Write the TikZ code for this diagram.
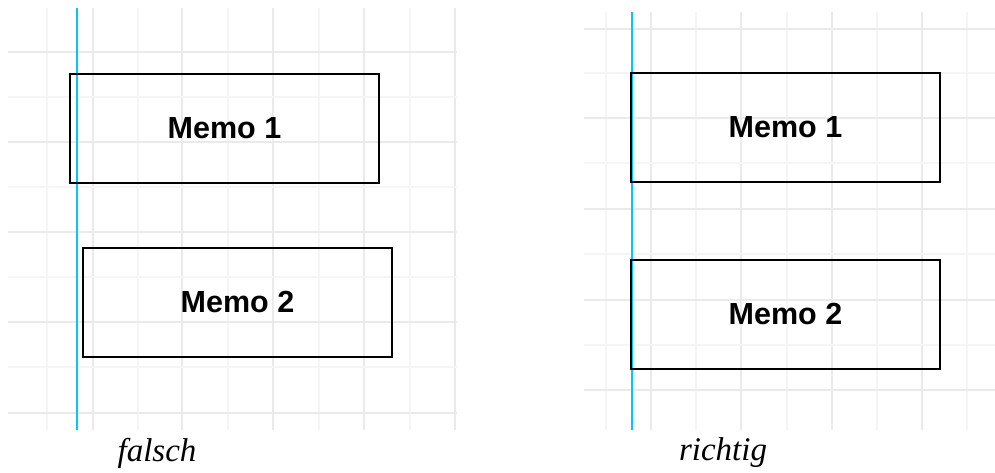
\documentclass[tikz,border=0pt]{standalone}
\usepackage{fontspec}
\setmainfont{Liberation Serif}
\setsansfont{Liberation Sans}
\definecolor{gridmaj}{RGB}{234,234,234}
\definecolor{gridmin}{RGB}{245,245,245}
\definecolor{guide}{RGB}{0,200,255}
\tikzset{
  memo/.style={draw=black, line width=2pt, minimum width=309pt, minimum height=109pt, inner sep=0pt,
    font=\sffamily\bfseries\fontsize{30.5}{34}\selectfont},
  majline/.style={gridmaj, line width=1.2pt},
  minline/.style={gridmin, line width=1.2pt},
  guideline/.style={guide, line width=1.3pt},
  caption/.style={font=\itshape\fontsize{33}{37}\selectfont, inner sep=0pt}
}
\begin{document}
\begin{tikzpicture}[x=1pt,y=-1pt]
\useasboundingbox (0,0) rectangle (995,472);
% left grid
\foreach \x in {47,138,228,319,410} \draw[minline] (\x,8) -- (\x,430);
\foreach \x in {93,182,273,364,455} \draw[majline] (\x,8) -- (\x,430);
\foreach \y in {52,142,232,322,413} \draw[majline] (8,\y) -- (457,\y);
\foreach \y in {97,187,277,367} \draw[minline] (8,\y) -- (457,\y);
% right grid
\foreach \x in {606,696,787,877,967} \draw[minline] (\x,12) -- (\x,430);
\foreach \x in {651,741,832,922} \draw[majline] (\x,12) -- (\x,430);
\foreach \y in {29,118,209,300,390} \draw[majline] (584,\y) -- (995,\y);
\foreach \y in {73,163,254,345} \draw[minline] (584,\y) -- (995,\y);
% guides
\coordinate (gl1) at (77,8); \coordinate (gl2) at (77,430);
\coordinate (gr1) at (632,12); \coordinate (gr2) at (632,430);
\draw[guideline] (gl1) -- (gl2);
\draw[guideline] (gr1) -- (gr2);
% boxes
\node[memo] (l1) at (224.5,128.5) {Memo 1};
\node[memo] (l2) at (237.5,302) {Memo 2};
\node[memo] (r1) at (785.5,127) {Memo 1};
\node[memo] (r2) at (785.5,314) {Memo 2};
% captions
\node[caption] (cf) at (157,453) {falsch};
\node[caption] (cr) at (723,453) {richtig};
\end{tikzpicture}
\end{document}
